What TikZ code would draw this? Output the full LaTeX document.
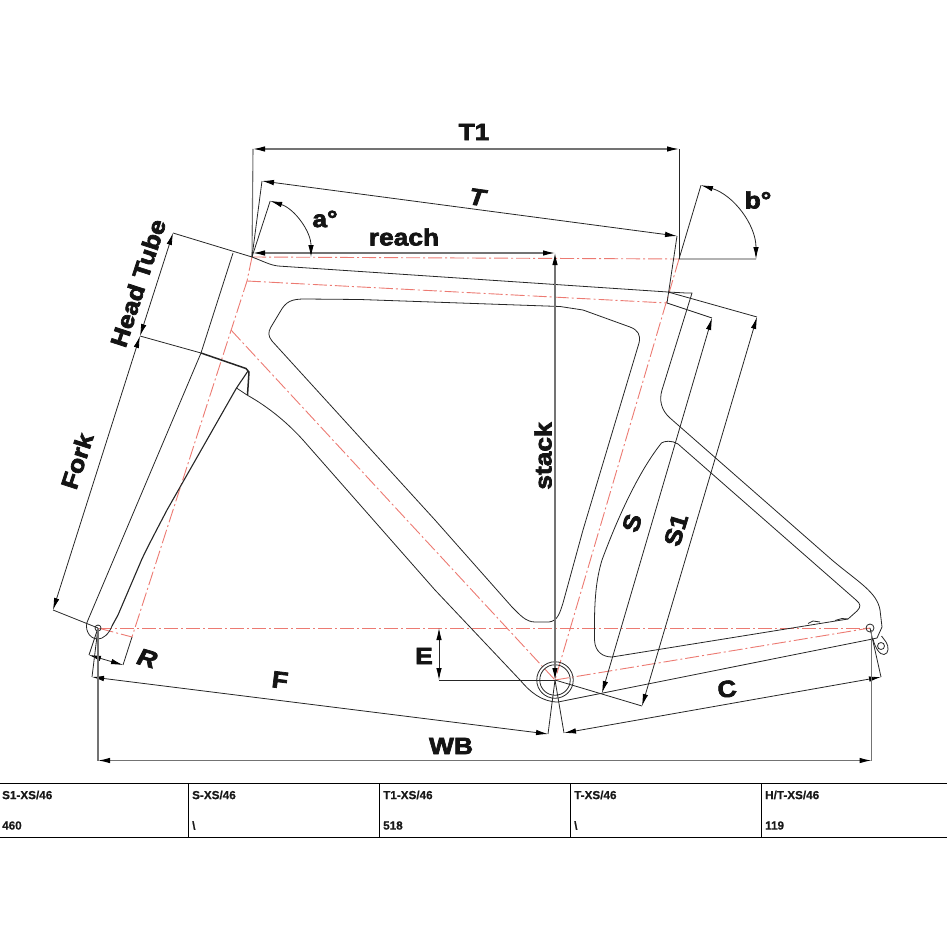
\documentclass[tikz,border=0pt]{standalone}
\usepackage{fontspec}
\usetikzlibrary{arrows.meta}
\newfontfamily\dimfont[FakeBold=3,FakeStretch=1.12]{Liberation Sans Bold}
\newfontfamily\dimslant[FakeBold=3,FakeStretch=1.12,FakeSlant=0.2]{Liberation Sans Bold}
\newfontfamily\cellfont[FakeBold=0.6]{Liberation Sans Bold}
\definecolor{axisred}{HTML}{EC7A72}
\begin{document}
\begin{tikzpicture}[
        x=1pt, y=-1pt,
        frame/.style={black!85, line width=0.8pt, line join=round},
        axis/.style={axisred, line width=0.9pt, dash pattern=on 14pt off 3pt on 2pt off 3pt},
        ext/.style={black!85, line width=0.8pt},
        extgray/.style={black!55, line width=1.1pt},
        tipend/.tip={Latex[length=12pt,width=5.5pt,black]},
        dim/.style={ext, tipend-tipend},
        dimgray/.style={extgray, tipend-tipend},
        dimlabel/.style={font=\dimfont\fontsize{23.5}{25}\selectfont, inner sep=0pt, text=black!92},
        slantlabel/.style={font=\dimslant\fontsize{23.5}{25}\selectfont, inner sep=0pt, text=black!92},
        tablecell/.style={font=\cellfont\fontsize{11.7}{13}\selectfont, anchor=west, inner sep=0pt, text=black!90},
        tableline/.style={black, line width=1pt},
    ]
    \useasboundingbox (0,0) rectangle (947,947);

    % main points
    \coordinate (bb) at (555,680);
    \coordinate (rear) at (870,628);
    \coordinate (front) at (98,628);
    \coordinate (headtop) at (252,257);
    \coordinate (axistop) at (679,259);
    \coordinate (axisjoin) at (247,281);
    \coordinate (seatjoin) at (667,303);
    \coordinate (downjoin) at (231,330);
    \coordinate (forkend) at (132,637);
    \coordinate (topend) at (668,292);
    \coordinate (crown) at (201,353);

    % centre lines
    \draw[axis] (headtop) -- (axistop);
    \draw[axis] (front) -- (rear);
    \draw[axis] (axisjoin) -- (seatjoin);
    \draw[axis] (headtop) -- (axisjoin) -- (forkend) -- (front);
    \draw[axis] (downjoin) -- (bb);
    \draw[axis] (axistop) -- (bb);
    \draw[axis] (bb) -- (rear);

    % frame outline
    \draw[frame] (headtop) .. controls (265,262) and (270,265) .. (278,266) -- (topend) -- (686,293) -- (692,293)
        -- (662,390) .. controls (659,400) and (661,410) .. (670,418) -- (832,560)
        .. controls (858,582) and (877,592) .. (880,610) -- (882,627) -- (877,638) -- (870,639.5) -- (558,702)
        .. controls (542,702) and (530,692) .. (520,680) -- (435,590) -- (303,440)
        .. controls (285,420) and (265,405) .. (247,395) -- (236.5,388);
    \draw[frame] (272,341) .. controls (268,336) and (268,332) .. (271,327) -- (280,312)
        .. controls (286,301) and (292,299) .. (305,299) -- (360,299.5) -- (560,306.5) -- (583,310) -- (630,327)
        .. controls (638,330) and (641,335) .. (639,343) -- (583,530) -- (563,603)
        .. controls (560,612) and (558,621) .. (549,622) -- (535,622)
        .. controls (526,622) and (520,615) .. (512,607) -- (435,520) -- cycle;
    \draw[frame] (612,657) -- (848,619) -- (857,611) .. controls (861,607) and (861,604) .. (856,600) -- (678,444)
        .. controls (672,440) and (664,441) .. (661.5,443) .. controls (643,466) and (622,506) .. (602,560)
        .. controls (596,580) and (594,600) .. (594.5,640) .. controls (595,652) and (603,657) .. (612,657) -- cycle;
    \draw[frame] (808,623.5) -- (813,621) -- (820,622);
    \draw[frame] (835,620.5) -- (842,618.5) -- (848,619);

    % fork and head tube
    \draw[frame] (233,253) -- (crown) -- (88,620);
    \draw[frame, line width=1.5pt] (crown) -- (246,368.5) -- (249,372) -- (247.5,395);
    \draw[frame, line width=1.1pt] (248,371) -- (236.5,388) -- (167,510) .. controls (155,533) and (146,550) .. (141.5,560)
        -- (118,615) -- (112,626);
    \draw[frame] (88,620) .. controls (84,627) and (88,639) .. (98,639) .. controls (103,639) and (109,634) .. (112,626);
    \node[circle, draw=black!85, line width=0.8pt, minimum size=6pt, inner sep=0pt] (frontaxle) at (front) {};

    % bottom bracket and dropout
    \node[circle, draw=black!85, line width=0.8pt, minimum size=36.5pt, inner sep=0pt] (bbouter) at (bb) {};
    \node[circle, draw=black!85, line width=0.8pt, minimum size=30.5pt, inner sep=0pt] (bbinner) at (bb) {};
    \node[circle, draw=black!85, line width=0.8pt, minimum size=8pt, inner sep=0pt] (rearaxle) at (rear) {};
    \node[circle, draw=black!85, line width=0.8pt, minimum size=7pt, inner sep=0pt] (hanger) at (881,646) {};
    \draw[frame] (873,639) .. controls (875,648) and (880,655) .. (884,654.5) .. controls (889,654) and (889,646) .. (886,642) -- (881.5,636);

    % top dimensions
    \coordinate (t1left) at (253,149);
    \coordinate (t1right) at (679,149);
    \draw[extgray] (t1left) -- (headtop);
    \draw[ext] (t1right) -- (axistop);
    \draw[dimgray] (t1left) -- (t1right);
    \node[dimlabel] (t1label) at (474,132) {T1};

    \coordinate (tleft) at (262,181);
    \coordinate (tright) at (677,236);
    \draw[ext] (tleft) -- (headtop);
    \draw[ext] (tright) -- (seatjoin);
    \draw[dim] (tleft) -- (tright);
    \node[slantlabel, rotate=-8] (tlabel) at (476,197) {T};

    \coordinate (reachleft) at (253,253);
    \coordinate (reachright) at (555,253);
    \draw[dimgray] (reachleft) -- (reachright);
    \node[dimlabel] (reachlabel) at (404,237) {reach};

    % angles
    \draw[ext] (headtop) -- ([shift={(-72:59)}]headtop);
    \draw[dim] ([shift={(-72:59)}]headtop) arc (-72:0:59);
    \node[dimlabel] (alabel) at (325,219) {a°};
    \draw[ext] ([shift={(-73.4:77)}]axistop) -- (axistop) -- ([shift={(0:77)}]axistop);
    \draw[dim] ([shift={(-73.4:77)}]axistop) arc (-73.4:0:77);
    \node[dimlabel] (blabel) at (758,200) {b°};

    % head tube and fork
    \coordinate (headdim) at (173,233);
    \coordinate (forkdim) at (140,336);
    \coordinate (forkfoot) at (53,610);
    \draw[ext] (headdim) -- (headtop);
    \draw[ext] (forkdim) -- (crown);
    \draw[ext] (forkfoot) -- (front);
    \draw[dim] (headdim) -- (forkdim);
    \draw[dim] (forkdim) -- (forkfoot);
    \node[dimlabel, rotate=72] (headlabel) at (138,283) {Head Tube};
    \node[dimlabel, rotate=72] (forklabel) at (77,461) {Fork};

    % stack and drop
    \draw[dimgray] (reachright) -- (bb);
    \node[dimlabel, rotate=90] (stacklabel) at (543,456) {stack};
    \coordinate (etop) at (439,628);
    \coordinate (ebottom) at (439,680);
    \draw[ext] (ebottom) -- (bb);
    \draw[dim] (etop) -- (ebottom);
    \node[dimlabel] (elabel) at (424,656) {E};

    % seat tube
    \coordinate (stop) at (712,318);
    \coordinate (sbottom) at (602,693);
    \coordinate (s1top) at (757,317);
    \coordinate (s1bottom) at (642,706);
    \draw[ext] (seatjoin) -- (stop);
    \draw[ext] (topend) -- (s1top);
    \draw[ext] (bb) -- (s1bottom);
    \draw[dim] (stop) -- (sbottom);
    \draw[dim] (s1top) -- (s1bottom);
    \node[dimlabel, rotate=73] (slabel) at (632,523) {S};
    \node[dimlabel, rotate=73] (s1label) at (676,530) {S1};

    % rake
    \coordinate (rleft) at (89,655);
    \coordinate (rright) at (123,665);
    \draw[ext] (front) -- (rleft);
    \draw[ext] (forkend) -- (rright);
    \draw[dim] (rleft) -- (rright);
    \node[slantlabel, rotate=-16] (rlabel) at (146,658) {R};

    % front and rear centre
    \coordinate (fleft) at (92,677);
    \coordinate (fright) at (548,734);
    \coordinate (cleft) at (564,733);
    \coordinate (cright) at (881,677);
    \draw[ext] (front) -- (fleft);
    \draw[ext] (bb) -- (fright);
    \draw[ext] (bb) -- (cleft);
    \draw[ext] (rear) -- (cright);
    \draw[dim] (fleft) -- (fright);
    \draw[dim] (cleft) -- (cright);
    \node[dimlabel, rotate=-7] (flabel) at (280,680) {F};
    \node[dimlabel, rotate=8] (clabel) at (727,689) {C};

    % wheelbase
    \coordinate (wbleft) at (98,760.5);
    \coordinate (wbright) at (871.5,760.5);
    \draw[extgray] (front) -- (wbleft);
    \draw[extgray] (871.5,630) -- (wbright);
    \draw[dimgray] (wbleft) -- (wbright);
    \node[dimlabel] (wblabel) at (451,746) {WB};

    % size table
    \draw[tableline] (0,783.5) -- (947,783.5);
    \draw[tableline] (0,837.5) -- (947,837.5);
    \foreach \xcol in {188.5,379.5,570.5,761.5}
        \draw[tableline] (\xcol,783.5) -- (\xcol,837.5);
    \node[tablecell] (s1head) at (2,795) {S1-XS/46};
    \node[tablecell] (s1val) at (2,825.5) {460};
    \node[tablecell] (shead) at (192,795) {S-XS/46};
    \node[tablecell] (sval) at (192,825.5) {\textbackslash};
    \node[tablecell] (t1head) at (383,795) {T1-XS/46};
    \node[tablecell] (t1val) at (383,825.5) {518};
    \node[tablecell] (thead) at (574,795) {T-XS/46};
    \node[tablecell] (tval) at (574,825.5) {\textbackslash};
    \node[tablecell] (hthead) at (765,795) {H/T-XS/46};
    \node[tablecell] (htval) at (765,825.5) {119};
\end{tikzpicture}
\end{document}
